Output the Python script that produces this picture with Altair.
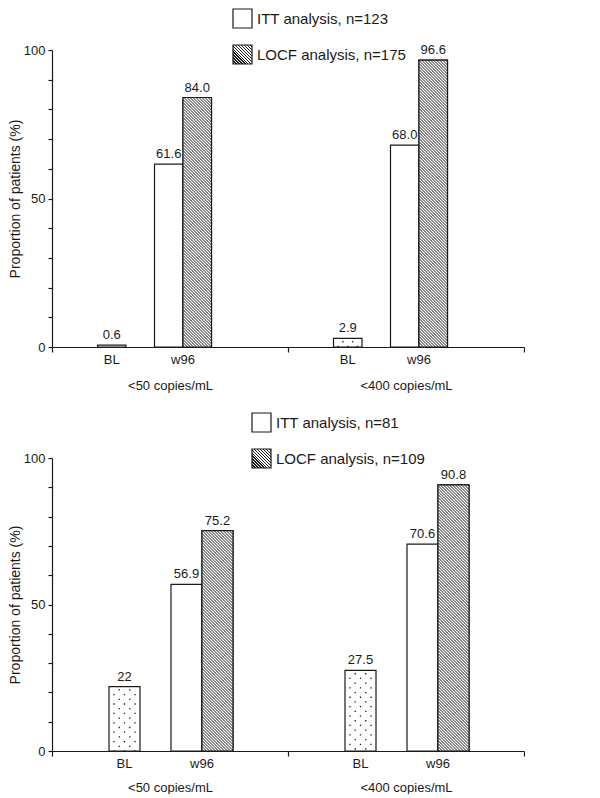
import altair as alt
import pandas as pd

groups = ["<50 copies/mL", "<400 copies/mL"]
sub_labels = ["BL", "w96"]
y_title = "Proportion of patients (%)"

# upper panel
top_bl = [0.6, 2.9]
top_itt = [61.6, 68.0]
top_locf = [84.0, 96.6]
top_bl_txt = ["0.6", "2.9"]
top_itt_txt = ["61.6", "68.0"]
top_locf_txt = ["84.0", "96.6"]
top_legend = ["ITT analysis, n=123", "LOCF analysis, n=175"]

# lower panel
bot_bl = [22, 27.5]
bot_itt = [56.9, 70.6]
bot_locf = [75.2, 90.8]
bot_bl_txt = ["22", "27.5"]
bot_itt_txt = ["56.9", "70.6"]
bot_locf_txt = ["75.2", "90.8"]
bot_legend = ["ITT analysis, n=81", "LOCF analysis, n=109"]

FONT = "Liberation Sans"
INK = "#1a1a1a"
PITCH = 3.0   # horizontal distance between hatch lines, px


def hatch_expr(side, dark=0.45):
    # legend swatch: striped gradient on a small square
    n = max(1, round(2 * side / PITCH))
    stops = []
    for i in range(n):
        a, b, c = i / n, (i + dark) / n, (i + 1) / n
        stops += [(a, INK), (b, INK), (b, "white"), (c, "white")]
    s = ",".join("{offset: %.5f, color: '%s'}" % (o, col) for o, col in stops)
    return "{gradient: 'linear', x1: 0, y1: 1, x2: 1, y2: 0, stops: [%s]}" % s


def hatch_path(w, h):
    # "\\\\" lines filling a w x h box, as a symbol path centred on the box
    r = max(w, h) / 2
    segs = []
    c = -h + PITCH / 2
    while c < w:
        x0, x1 = max(0, c), min(w, h + c)
        if x1 - x0 > 0.4:
            segs.append("M%.4f,%.4fL%.4f,%.4f" % ((x0 - w / 2) / r, (x0 - c - h / 2) / r,
                                                 (x1 - w / 2) / r, (x1 - c - h / 2) / r))
        c += PITCH
    return "".join(segs), (2 * r) ** 2


def panel(bl, itt, locf, bl_txt, itt_txt, locf_txt, legend, width, height,
          step, bl_start, legend_x, legend_y, label_pad):
    rows = []
    for g, b, i, l, bt, it, lt in zip(groups, bl, itt, locf, bl_txt, itt_txt, locf_txt):
        rows += [
            {"group": g, "slot": "BL", "value": b, "label": bt, "series": "BL"},
            {"group": g, "slot": "ITT", "value": i, "label": it, "series": legend[0]},
            {"group": g, "slot": "LOCF", "value": l, "label": lt, "series": legend[1]},
        ]
    df = pd.DataFrame(rows)

    # slot layout inside one group: spare slots on the right until the padding fits
    gw = width / 2
    slots = ["l1", "BL", "gap", "ITT", "LOCF"]
    while (gw - len(slots) * step) / (2 * step) > 1:
        slots.append("r%d" % len(slots))
    outer = gw - len(slots) * step
    pad_outer = outer / (2 * step)
    align = (bl_start - step) / outer

    x_axis = alt.Axis(title=None, labelAngle=0, tickBand="extent", tickSize=5,
                      labelPadding=label_pad, labelFont=FONT, labelFontSize=13,
                      labelColor=INK, domainColor=INK, tickColor=INK,
                      domainWidth=1.2, tickWidth=1.2)
    x_scale = alt.Scale(paddingInner=0, paddingOuter=0)
    off_scale = alt.Scale(domain=slots, paddingInner=0, paddingOuter=pad_outer, align=align)
    y_scale = alt.Scale(domain=[0, 100], nice=False)
    y_axis = alt.Axis(values=list(range(0, 101, 10)), grid=False, labelOverlap=False,
                      labelExpr="datum.value % 50 === 0 ? datum.label : ''",
                      tickSize=4, labelPadding=3, labelFont=FONT, labelFontSize=13,
                      labelColor=INK, domainColor=INK, tickColor=INK,
                      domainWidth=1.2, tickWidth=1.2, title=y_title,
                      titleFont=FONT, titleFontSize=14, titleFontWeight="normal",
                      titleColor=INK, titlePadding=1)

    def y_of(field):
        return alt.Y(field + ":Q", scale=y_scale, axis=y_axis)

    base = alt.Chart(df).transform_calculate(zero="0", mid="datum.value / 2").encode(
        x=alt.X("group:N", sort=groups, scale=x_scale, axis=x_axis),
        xOffset=alt.XOffset("slot:N", scale=off_scale),
        y=y_of("value"),
    )

    bl_bars = base.transform_filter(alt.datum.slot == "BL").mark_bar(
        fill="white", stroke=INK, strokeWidth=1.2)

    # dotted fill of the baseline bars: dashed vertical rules
    dots = []
    for j, d in enumerate([-0.34, -0.17, 0, 0.17, 0.34]):
        bp = (bl_start + step / 2 + d * step) / gw
        dots.append(
            alt.Chart(df).transform_calculate(zero="0").transform_filter(alt.datum.slot == "BL")
            .mark_rule(color=INK, strokeWidth=1.3, strokeDash=[1.3, 8.1],
                       strokeDashOffset=2 if j % 2 == 0 else 6.7)
            .encode(
                x=alt.X("group:N", sort=groups, scale=x_scale, axis=x_axis, bandPosition=bp),
                y=y_of("value"),
                y2="zero:Q",
            )
        )

    w96_bars = base.transform_filter(alt.datum.slot != "BL").mark_bar(
        stroke=INK, strokeWidth=1.2).encode(
        fill=alt.Fill("series:N",
                      scale=alt.Scale(domain=legend, range=["white", {"expr": hatch_expr(19)}]),
                      legend=alt.Legend(title=None, orient="none", legendX=legend_x,
                                        legendY=legend_y, direction="vertical",
                                        symbolType="square", symbolSize=361,
                                        symbolStrokeColor=INK, symbolStrokeWidth=1.2,
                                        labelFont=FONT, labelFontSize=15, labelColor=INK,
                                        labelOffset=4, rowPadding=11, padding=0,
                                        labelLimit=300)))

    locf_white = base.transform_filter(alt.datum.slot == "LOCF").mark_bar(
        fill="white", stroke=INK, strokeWidth=1.2)

    hatched = []
    for g, v in zip(groups, locf):
        path, size = hatch_path(step, v / 100 * height)
        hatched.append(
            base.transform_filter((alt.datum.group == g) & (alt.datum.slot == "LOCF"))
            .mark_point(shape=path, size=size, filled=False, stroke=INK, strokeWidth=1.0,
                        opacity=1)
            .encode(y=y_of("mid"))
        )

    values = base.mark_text(baseline="alphabetic", dy=-6, font=FONT, fontSize=13,
                            color=INK).encode(text="label:N")

    bl_lab = base.transform_filter(alt.datum.slot == "BL").mark_text(
        text=sub_labels[0], baseline="middle", dy=13, font=FONT, fontSize=13,
        color=INK).encode(y=y_of("zero"))
    w96_lab = base.transform_filter(alt.datum.slot == "ITT").mark_text(
        text=sub_labels[1], baseline="middle", dx=step / 2, dy=13, font=FONT,
        fontSize=13, color=INK).encode(y=y_of("zero"))

    return alt.layer(bl_bars, *dots, w96_bars, locf_white, *hatched, values,
                     bl_lab, w96_lab).properties(width=width, height=height)


top = panel(top_bl, top_itt, top_locf, top_bl_txt, top_itt_txt, top_locf_txt, top_legend,
            472, 297, 28.5, 45.5, 180, -42, 27)
bot = panel(bot_bl, bot_itt, bot_locf, bot_bl_txt, bot_itt_txt, bot_locf_txt, bot_legend,
            472, 293, 31, 57, 199, -46, 25)

chart = alt.vconcat(top, bot, spacing=20).resolve_scale(
    x="independent", xOffset="independent", y="independent", fill="independent"
).properties(padding=0).configure_view(stroke=None)

chart.save("out.html", embed_options={"renderer": "svg", "actions": False})
